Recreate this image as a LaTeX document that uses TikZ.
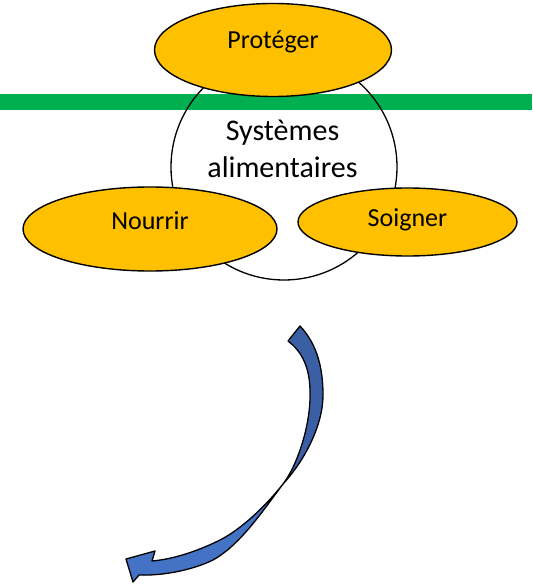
\documentclass[tikz,border=0pt]{standalone}
\usepackage{fontspec}
\setmainfont{Carlito}
\usetikzlibrary{shapes.geometric}
\definecolor{petalyellow}{HTML}{FFC000}
\definecolor{bandgreen}{HTML}{00B050}
\definecolor{arrowblue}{HTML}{4472C4}
\definecolor{arrowdark}{HTML}{3B5FA5}

\begin{document}
\begin{tikzpicture}[x=1pt,y=-1pt,
  petal/.style={ellipse,draw=black,line width=1.4pt,fill=petalyellow,inner sep=0pt,
    font=\fontsize{26}{31}\selectfont,text height=18pt},
  outline/.style={draw=black,line width=1.3pt,line join=round}]
\useasboundingbox (0,0) rectangle (532,585);
% green band
\fill[bandgreen] (0,94) rectangle (532,110);
% central circle
\node[circle,draw=black,line width=1.3pt,minimum size=226pt,inner sep=0pt] (sys) at (284,167) {};
\node[align=center,font=\fontsize{30}{37}\selectfont,inner sep=0pt] (systxt) at (282.5,149) {Systèmes\\alimentaires};
% petals
\node[petal,minimum width=237pt,minimum height=93pt,text depth=21pt] (proteger) at (273,50) {Protéger};
\node[petal,minimum width=254pt,minimum height=84pt,text depth=18pt] (nourrir) at (150,229) {Nourrir};
\node[petal,minimum width=219pt,minimum height=68pt,text depth=9pt] (soigner) at (407.5,222) {Soigner};
% curved arrow
\coordinate (tailL) at (288,341);
\coordinate (tailR) at (300,326);
\coordinate (bulgeO) at (323,395);
\coordinate (bulgeI) at (310,392);
\coordinate (pinch) at (283,484);
\coordinate (bendlo) at (213,560);
\coordinate (bendup) at (220,540);
\coordinate (notchlo) at (139,575);
\coordinate (barblo) at (133,582);
\coordinate (tip) at (126,559);
\coordinate (barbup) at (155,551);
\coordinate (notchup) at (152,561);
\filldraw[outline,fill=arrowdark] (tailL) -- (tailR)
  .. controls (318,345) and (323,370) .. (bulgeO)
  .. controls (323,425) and (305,460) .. (pinch)
  .. controls (297,466) and (311,425) .. (bulgeI)
  .. controls (310,365) and (300,350) .. (tailL) -- cycle;
\filldraw[outline,fill=arrowblue] (pinch)
  .. controls (262,512) and (240,545) .. (bendlo)
  .. controls (195,569) and (165,576) .. (notchlo)
  -- (barblo) -- (tip) -- (barbup) -- (notchup)
  .. controls (175,559) and (200,550) .. (bendup)
  .. controls (240,530) and (265,507) .. (pinch) -- cycle;
\end{tikzpicture}
\end{document}
